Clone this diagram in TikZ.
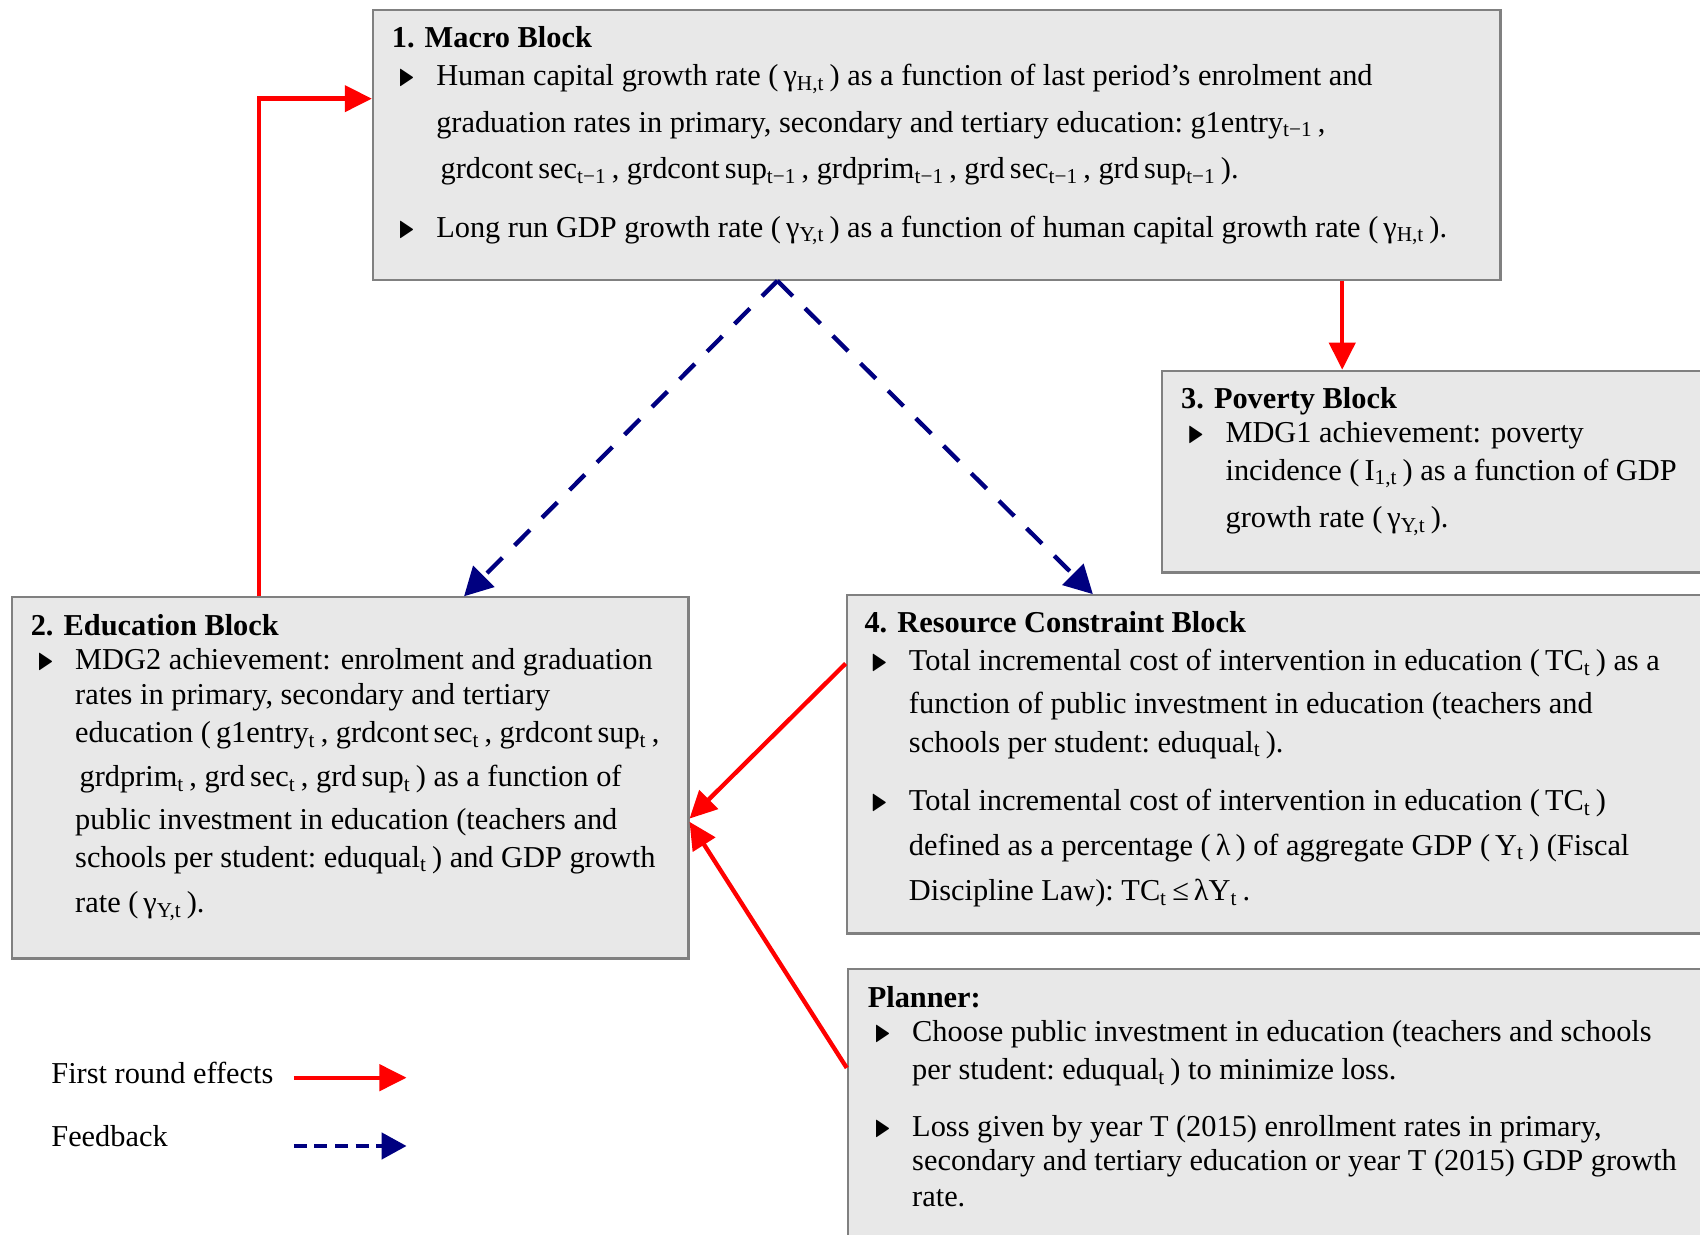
\documentclass[tikz,border=0pt]{standalone}
\usepackage{fontspec}
\setmainfont{Liberation Serif}
\usepackage{amsmath,amssymb}
\definecolor{BoxGray}{HTML}{E8E8E8}
\definecolor{EdgeGray}{HTML}{808080}
\definecolor{EffectRed}{HTML}{FF0000}
\definecolor{FeedbackNavy}{HTML}{000080}
\usetikzlibrary{arrows.meta, positioning}
\tikzset{
  % Box styles
  blockbox/.style={rectangle, draw=EdgeGray, fill=BoxGray, line width=1pt, anchor=north west, inner sep=0pt},
  blocktext/.style={inner sep=0pt, align=left, font=\fontsize{14}{15}\selectfont},
  legendtext/.style={inner sep=0pt, anchor=west, font=\fontsize{14}{15}\selectfont},
  % Arrow styles
  redarrow/.style={-{Triangle[length=12.5pt, width=12pt]}, line width=2pt, EffectRed},
  bluearrow/.style={-{Triangle[length=13pt, width=13.5pt]}, line width=2pt, FeedbackNavy, dash pattern=on 10pt off 8pt},
  legendblue/.style={-{Triangle[length=11.5pt, width=12pt]}, line width=2pt, FeedbackNavy, dash pattern=on 6pt off 3.5pt}
}
\newcommand{\bul}{\makebox[20.5pt][l]{\hspace{3pt}\smash{\scalebox{0.7}[1]{$\blacktriangleright$}}}}
\newcommand{\ind}{\hspace*{20.5pt}}
\newcommand{\lo}[1]{\textsubscript{#1}}

\begin{document}
\begin{tikzpicture}[x=0.5pt, y=-0.5pt]
  \useasboundingbox (0,0) rectangle (1568,1139);
  \clip (0,0) rectangle (1568,1139);

  % Blocks
  \node[blockbox, minimum width=520pt, minimum height=124.5pt] (macro) at (343,8) {};
  \node[blockbox, minimum width=270pt, minimum height=93pt] (pov) at (1071,341) {};
  \node[blockbox, minimum width=312pt, minimum height=166.5pt] (edu) at (10,550) {};
  \node[blockbox, minimum width=420pt, minimum height=156pt] (res) at (780,548) {};
  \node[blockbox, minimum width=420pt, minimum height=150pt] (plan) at (781,893) {};

  % Macro block text
  \node[blocktext, below right=8pt and 9pt of macro.north west] (macrotxt) {%
    \textbf{1. Macro Block}\\[2.5pt]
    \bul Human capital growth rate (\,γ\lo{H,t}\,) as a function of last period’s enrolment and\\[6.5pt]
    \ind graduation rates in primary, secondary and tertiary education:\ g1entry\lo{t−1}\,,\\[6.5pt]
    \ind\hspace{2pt}grdcont\,sec\lo{t−1}\,,\ grdcont\,sup\lo{t−1}\,,\ grdprim\lo{t−1}\,,\ grd\,sec\lo{t−1}\,,\ grd\,sup\lo{t−1}\,).\\[12pt]
    \bul Long run GDP growth rate (\,γ\lo{Y,t}\,) as a function of human capital growth rate (\,γ\lo{H,t}\,).};

  % Poverty block text
  \node[blocktext, below right=8pt and 9pt of pov.north west] (povtxt) {%
    \textbf{3. Poverty Block}\\[0.5pt]
    \bul MDG1 achievement: poverty\\[2.5pt]
    \ind incidence (\,I\lo{1,t}\,) as a function of GDP\\[7pt]
    \ind growth rate (\,γ\lo{Y,t}\,).};

  % Education block text
  \node[blocktext, below right=8pt and 9pt of edu.north west] (edutxt) {%
    \textbf{2. Education Block}\\[1pt]
    \bul MDG2 achievement: enrolment and graduation\\[1pt]
    \ind rates in primary, secondary and tertiary\\[2.5pt]
    \ind education (\,g1entry\lo{t}\,,\ grdcont\,sec\lo{t}\,,\ grdcont\,sup\lo{t}\,,\\[5.5pt]
    \ind\hspace{2pt}grdprim\lo{t}\,,\ grd\,sec\lo{t}\,,\ grd\,sup\lo{t}\,) as a function of\\[4.5pt]
    \ind public investment in education (teachers and\\[2.5pt]
    \ind schools per student:\ eduqual\lo{t}\,) and GDP growth\\[6pt]
    \ind rate (\,γ\lo{Y,t}\,).};

  % Resource constraint block text
  \node[blocktext, below right=8pt and 8.5pt of res.north west] (restxt) {%
    \textbf{4. Resource Constraint Block}\\[2.5pt]
    \bul Total incremental cost of intervention in education (\,TC\lo{t}\,) as a\\[4.5pt]
    \ind function of public investment in education (teachers and\\[3pt]
    \ind schools per student:\ eduqual\lo{t}\,).\\[12pt]
    \bul Total incremental cost of intervention in education (\,TC\lo{t}\,)\\[5.5pt]
    \ind defined as a percentage (\,λ\,) of aggregate GDP (\,Y\lo{t}\,) (Fiscal\\[6pt]
    \ind Discipline Law):\ TC\lo{t}\,≤\,λY\lo{t}\,.};

  % Planner text
  \node[blocktext, below right=8pt and 9.5pt of plan.north west] (plantxt) {%
    \textbf{Planner:}\\[1pt]
    \bul Choose public investment in education (teachers and schools\\[2.5pt]
    \ind per student:\ eduqual\lo{t}\,) to minimize loss.\\[11pt]
    \bul Loss given by year T (2015) enrollment rates in primary,\\[1pt]
    \ind secondary and tertiary education or year T (2015) GDP growth\\[1.5pt]
    \ind rate.};

  % First round effects
  \draw[redarrow] ([xshift=114.5pt]edu.north west) |- ([yshift=-41.5pt]macro.north west);
  \draw[redarrow] ([xshift=447.5pt]macro.south west) -- ([xshift=83.5pt]pov.north west);
  \draw[redarrow] ([yshift=-32pt]res.north west) -- ([yshift=-102.5pt]edu.north east);
  \draw[redarrow] ([yshift=-46pt]plan.north west) -- ([yshift=-104pt]edu.north east);

  % Feedback
  \draw[bluearrow] ([xshift=187pt]macro.south west) -- ([xshift=209pt]edu.north west);
  \draw[bluearrow] ([xshift=187pt]macro.south west) -- ([xshift=114pt]res.north west);

  % Legend
  \node[legendtext] (firstlbl) at (47,990) {First round effects};
  \node[legendtext] (feedlbl) at (47,1048) {Feedback};
  \coordinate (firsts) at (271,994);
  \coordinate (firste) at (375,994);
  \coordinate (feeds) at (271,1057);
  \coordinate (feede) at (375,1057);
  \draw[redarrow] (firsts) -- (firste);
  \draw[legendblue] (feeds) -- (feede);
\end{tikzpicture}
\end{document}
